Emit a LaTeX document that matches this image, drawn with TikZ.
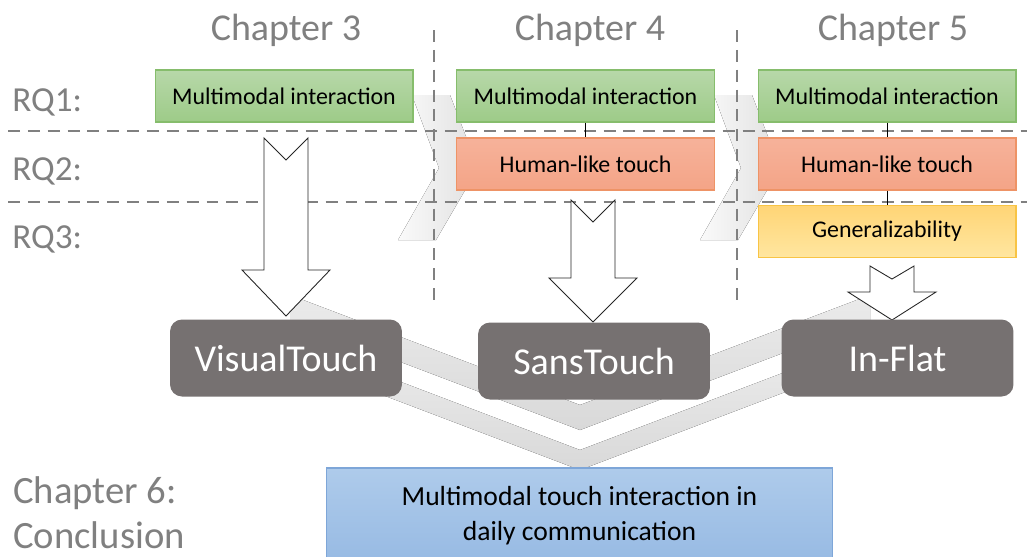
\documentclass[tikz,border=0pt]{standalone}
\usepackage{fontspec}
\setmainfont{Carlito}

\definecolor{headgray}{HTML}{808080}
\definecolor{studygray}{HTML}{767171}
\definecolor{greentop}{HTML}{B7D8A9}
\definecolor{greenbot}{HTML}{9DCB88}
\definecolor{greenedge}{HTML}{86BD6C}
\definecolor{orangetop}{HTML}{F6B29A}
\definecolor{orangebot}{HTML}{F4A487}
\definecolor{orangeedge}{HTML}{EE9366}
\definecolor{yellowtop}{HTML}{FFD576}
\definecolor{yellowbot}{HTML}{FFE6A0}
\definecolor{yellowedge}{HTML}{F8C445}
\definecolor{bluetop}{HTML}{AECBEB}
\definecolor{bluebot}{HTML}{97BAE3}
\definecolor{blueedge}{HTML}{7EA6D8}

\begin{document}
\begin{tikzpicture}[x=0.02cm, y=-0.02cm,
    rqbox/.style={draw, line width=0.6pt, minimum width=5.16cm, minimum height=1.04cm,
        inner sep=0pt, font=\fontsize{13.6}{16}\selectfont},
    rqgreen/.style={rqbox, draw=greenedge, top color=greentop, bottom color=greenbot},
    rqorange/.style={rqbox, draw=orangeedge, top color=orangetop, bottom color=orangebot},
    rqyellow/.style={rqbox, draw=yellowedge, top color=yellowtop, bottom color=yellowbot},
    study/.style={fill=studygray, rounded corners=0.24cm, minimum width=4.64cm,
        minimum height=1.54cm, text=white, font=\fontsize{21.6}{26}\selectfont},
    chapter/.style={text=headgray, anchor=base, font=\fontsize{21.6}{26}\selectfont},
    rqlabel/.style={text=headgray, anchor=base west, inner sep=0pt, font=\fontsize{20}{24}\selectfont},
    divider/.style={headgray, line width=1.4pt, dash pattern=on 6.8pt off 4.5pt},
    flowband/.style={top color=black!8, bottom color=black!15, draw=none},
    sideband/.style={left color=black!2, right color=black!12, draw=none},
    blockarrow/.style={draw=black!85, fill=white, line width=0.5pt},
    link/.style={draw=black, line width=0.5pt}]

\useasboundingbox (0,0) rectangle (1027,556);

% grey chevrons in the background
\foreach \dx in {0, 302} {
    \fill[sideband] (412+\dx,95) -- (450+\dx,95) -- (478+\dx,168) -- (436+\dx,240)
        -- (398+\dx,240) -- (439+\dx,168) -- cycle;
}
\fill[flowband] (290,295) -- (580,405) -- (870,295) -- (870,320) -- (580,430) -- (290,320) -- cycle;
\fill[flowband] (330,355) -- (580,450) -- (830,355) -- (830,375) -- (580,470) -- (330,375) -- cycle;

% dividers
\draw[divider] (8,131) -- (1027,131);
\draw[divider] (8,202) -- (1027,202);
\draw[divider] (434,30) -- (434,305);
\draw[divider] (737,30) -- (737,305);

% headings
\node[chapter] (ch3) at (286,40) {Chapter 3};
\node[chapter] (ch4) at (590,40) {Chapter 4};
\node[chapter] (ch5) at (893,40) {Chapter 5};
\foreach \i/\y in {1/111, 2/180, 3/248} {
    \node[rqlabel] (rq\i) at (12,\y) {RQ\i:};
}

% research questions per chapter
\node[rqgreen] (g3) at (284,96) {Multimodal interaction};
\node[rqgreen] (g4) at (585.5,96) {Multimodal interaction};
\node[rqgreen] (g5) at (887,96) {Multimodal interaction};
\node[rqorange] (o4) at (585.5,164) {Human-like touch};
\node[rqorange] (o5) at (887,164) {Human-like touch};
\node[rqyellow] (y5) at (887,231.5) {Generalizability};

\draw[link] (g4) -- (o4);
\draw[link] (g5) -- (o5);
\draw[link] (o5) -- (y5);

% block arrows
\foreach \cx/\ytop/\nd/\yh/\yt in {286/138/22/270/316, 593/200/22/278/322, 892/266/13/292/320} {
    \draw[blockarrow] (\cx-22,\ytop) -- (\cx,\ytop+\nd) -- (\cx+22,\ytop) -- (\cx+22,\yh)
        -- (\cx+44,\yh) -- (\cx,\yt) -- (\cx-44,\yh) -- (\cx-22,\yh) -- cycle;
}

% studies
\node[study] (vt) at (286,358) {VisualTouch};
\node[study] (st) at (594,361) {SansTouch};
\node[study] (fl) at (897.5,358) {In-Flat};

% conclusion
\node[text=headgray, anchor=west, align=left, inner sep=0pt,
    font=\fontsize{22}{25.5}\selectfont] (ch6) at (13,513) {Chapter 6:\\Conclusion};
\node[draw=blueedge, line width=0.6pt, top color=bluetop, bottom color=bluebot,
    minimum width=10.14cm, minimum height=1.9cm, align=center,
    font=\fontsize{15.7}{20}\selectfont] (concl) at (579.5,515.5)
    {Multimodal touch interaction in\\daily communication};

\end{tikzpicture}
\end{document}
